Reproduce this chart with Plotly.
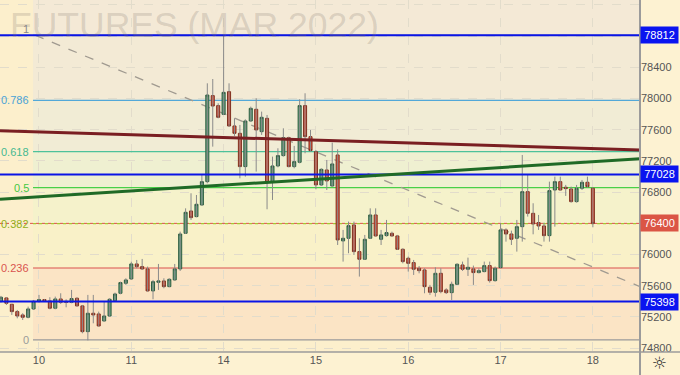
import plotly.graph_objects as go

# ---------------- data ----------------
day_labels = ["10", "11", "14", "15", "16", "17", "18"]
day_start_index = [7, 24, 41, 58, 75, 92, 109]

opens = [75401, 75444, 75363, 75269, 75226, 75196, 75303, 75401, 75423, 75406,
         75312, 75431, 75401, 75389, 75440, 75342, 75012, 75248, 75239, 75149,
         75213, 75410, 75504, 75632, 75688, 75880, 75846, 75816, 75534, 75645,
         75662, 75589, 75675, 75816, 76273, 76559, 76487, 76636, 76935, 78038,
         77910, 77798, 78089, 77649, 77555, 77128, 77713, 77863, 77576, 77747,
         76935, 77136, 77269, 77499, 77128, 77183, 77910, 77512, 77320, 76893,
         77085, 76880, 77277, 76175, 76209, 76380, 76038, 75940, 76209, 76508,
         76196, 76243, 76273, 76239, 76068, 75953, 75897, 75824, 75803, 75581,
         75517, 75760, 75547, 75512, 75619, 75867, 75812, 75816, 75769, 75782,
         75859, 75666, 75833, 76316, 76264, 76209, 76358, 76807, 76529, 76410,
         76367, 76243, 76828, 76935, 76863, 76841, 76679, 76850, 76927, 76850]
highs = [75470, 75453, 75363, 75290, 75248, 75333, 75418, 75483, 75431, 75453,
         75461, 75504, 75427, 75547, 75453, 75354, 75483, 75483, 75269, 75397,
         75440, 75512, 75653, 75696, 75910, 75931, 75944, 75846, 75675, 75880,
         75696, 75696, 75880, 76294, 76593, 76786, 76764, 77021, 78196, 78251,
         77940, 78812, 78196, 77747, 77662, 77734, 77897, 78004, 77833, 77790,
         77256, 77363, 77619, 77512, 77393, 77991, 78068, 77598, 77341, 77106,
         77213, 77435, 77350, 76316, 76423, 76423, 76209, 76252, 76593, 76593,
         76316, 76444, 76294, 76252, 76080, 75974, 75931, 75854, 75824, 75611,
         75837, 75824, 75568, 75653, 75888, 75910, 75961, 75859, 75824, 75910,
         75910, 75846, 76401, 76337, 76307, 76444, 77277, 77021, 76658, 76508,
         76410, 76935, 76999, 76999, 76893, 76871, 76893, 76957, 76999, 76863]
lows = [75384, 75354, 75226, 75183, 75162, 75183, 75290, 75384, 75397, 75299,
        75299, 75367, 75324, 75376, 75333, 74991, 74900, 75119, 75077, 75141,
        75205, 75397, 75491, 75611, 75675, 75824, 75803, 75525, 75427, 75547,
        75568, 75581, 75666, 75790, 76264, 76444, 76478, 76628, 76914, 77384,
        77747, 77790, 77640, 77521, 76978, 76999, 77704, 77064, 77534, 76581,
        76700, 77119, 77256, 77119, 77106, 77170, 77299, 77320, 76837, 76880,
        76828, 76871, 76123, 75910, 76017, 75995, 75718, 75931, 76200, 76230,
        76123, 76230, 76230, 76059, 75888, 75782, 75739, 75760, 75504, 75483,
        75461, 75504, 75495, 75418, 75611, 75790, 75726, 75611, 75760, 75773,
        75641, 75653, 75824, 76166, 76123, 76038, 76166, 76487, 76260, 76316,
        76166, 76166, 76358, 76820, 76752, 76666, 76666, 76828, 76858, 76350]
closes = [75453, 75376, 75269, 75213, 75196, 75303, 75401, 75423, 75406, 75312,
          75431, 75389, 75389, 75436, 75342, 75012, 75248, 75226, 75085, 75213,
          75427, 75495, 75641, 75675, 75880, 75846, 75816, 75534, 75653, 75662,
          75589, 75683, 75816, 76264, 76542, 76474, 76645, 76935, 78046, 77905,
          77760, 78080, 77649, 77555, 77128, 77713, 77875, 77598, 77760, 76923,
          77136, 77269, 77499, 77128, 77192, 77910, 77512, 77333, 76893, 77093,
          76944, 77162, 76188, 76209, 76371, 76038, 75940, 76196, 76508, 76239,
          76252, 76282, 76239, 76068, 75910, 75888, 75812, 75794, 75589, 75517,
          75760, 75525, 75512, 75619, 75876, 75812, 75837, 75769, 75794, 75859,
          75666, 75824, 76316, 76264, 76196, 76358, 76807, 76529, 76393, 76367,
          76243, 76820, 76935, 76828, 76846, 76679, 76850, 76927, 76871, 76400]

fib_high = 78812
fib_low = 74906
fib_ratios = [1, 0.786, 0.618, 0.5, 0.382, 0.236, 0]
fib_names = ["1", "0.786", "0.618", "0.5", "0.382", "0.236", "0"]
fib_colors = ["#8f8f8f", "#52a8d8", "#4dc29a", "#48d048", "#a5c830", "#d9534f", "#9a9a9a"]
fib_label_colors = ["#8a8a8a", "#4aa3d6", "#45b990", "#44c844", "#92b020", "#d9534f", "#9a9a9a"]
fib_fills = ["#f3ead5", "#f1ecd5", "#eff0d1", "#f5f2cb", "#f9f1c8", "#fbe4c5"]
above_fill = "#f4e9d6"

level_lines = [78812, 77028, 75398]
last_price = 76400

red_trend = [77589, 77341]
green_trend = [76709, 77230]
dash_trend = [78812, 75589]

yticks = [74800, 75200, 75600, 76000, 76400, 76800, 77200, 77600, 78000, 78400, 78800, 79200]
ytick_text = ["74800", "75200", "75600", "76000", "", "76800", "77200", "77600",
              "78000", "78400", "", "79200"]

# ---------------- figure ----------------
n = len(opens)
idx = list(range(n))
x_min, x_max = -0.18, 117.68
y_min, y_max = 74751, 79264
fib_x0 = 5.9

fig = go.Figure()

# wicks
wx, wy = [], []
for i in idx:
    wx += [i, i, None]
    wy += [lows[i], highs[i], None]
fig.add_trace(go.Scatter(x=wx, y=wy, mode="lines",
                         line=dict(color="#8a8a8a", width=1), hoverinfo="skip",
                         showlegend=False))

body_hi = [max(o, c) for o, c in zip(opens, closes)]
body_lo = [min(o, c) for o, c in zip(opens, closes)]
fig.add_trace(go.Candlestick(
    x=idx, open=opens, high=body_hi, low=body_lo, close=closes,
    increasing=dict(fillcolor="#5c9c78", line=dict(color="#2f5e42", width=1)),
    decreasing=dict(fillcolor="#e1503a", line=dict(color="#80301f", width=1)),
    whiskerwidth=0, showlegend=False, hoverinfo="skip"))

shapes = []
levels = [fib_low + r * (fib_high - fib_low) for r in fib_ratios]
shapes.append(dict(type="rect", xref="x", yref="y", x0=fib_x0, x1=x_max,
                   y0=levels[0], y1=y_max, fillcolor=above_fill, line_width=0, layer="below"))
for k in range(len(levels) - 1):
    shapes.append(dict(type="rect", xref="x", yref="y", x0=fib_x0, x1=x_max,
                       y0=levels[k + 1], y1=levels[k], fillcolor=fib_fills[k],
                       line_width=0, layer="below"))
shapes.append(dict(type="line", xref="x", yref="y", x0=x_min, x1=x_max,
                   y0=last_price, y1=last_price,
                   line=dict(color="#e0524a", width=1, dash="dot"), layer="between"))
for k, lv in enumerate(levels):
    shapes.append(dict(type="line", xref="x", yref="y", x0=fib_x0, x1=x_max,
                       y0=lv, y1=lv,
                       line=dict(color=fib_colors[k], width=1.2,
                                 dash="dot" if fib_names[k] == "0.382" else "solid"),
                       layer="between"))
shapes.append(dict(type="line", xref="x", yref="y", x0=6.3, x1=x_max,
                   y0=dash_trend[0], y1=dash_trend[1],
                   line=dict(color="#a09a90", width=1.3, dash="dash"), layer="between"))
for lv in level_lines:
    shapes.append(dict(type="line", xref="x", yref="y", x0=x_min, x1=x_max,
                       y0=lv, y1=lv, line=dict(color="#0a14e6", width=2), layer="above"))
shapes.append(dict(type="line", xref="x", yref="y", x0=x_min, x1=x_max,
                   y0=red_trend[0], y1=red_trend[1],
                   line=dict(color="#7a1f22", width=3), layer="above"))
shapes.append(dict(type="line", xref="x", yref="y", x0=x_min, x1=x_max,
                   y0=green_trend[0], y1=green_trend[1],
                   line=dict(color="#1f6a26", width=3), layer="above"))
shapes.append(dict(type="line", xref="paper", yref="paper", x0=0, x1=1.0625,
                   y0=0, y1=0, line=dict(color="#9b9b9b", width=1.5)))
shapes.append(dict(type="line", xref="paper", yref="paper", x0=1, x1=1,
                   y0=-0.07, y1=1, line=dict(color="#9b9b9b", width=2)))

annotations = []
annotations.append(dict(text="FUTURES (MAR 2022)", xref="paper", yref="paper",
                        x=0.012, y=1.0, xanchor="left", yanchor="top", yshift=-3,
                        showarrow=False,
                        font=dict(family="Liberation Sans", size=35.5,
                                  color="rgba(130,120,110,0.24)")))
for k, lv in enumerate(levels):
    annotations.append(dict(text=fib_names[k], xref="paper", yref="y", x=31 / 640,
                            y=lv, xanchor="right",
                            yanchor="bottom" if fib_names[k] == "1" else "middle",
                            yshift=-2 if fib_names[k] == "1" else 0,
                            showarrow=False,
                            font=dict(family="Liberation Sans", size=11,
                                      color=fib_label_colors[k])))
for lv in level_lines:
    annotations.append(dict(text=str(lv), xref="paper", yref="y", x=1.0, y=lv,
                            xanchor="left", yanchor="middle", showarrow=False,
                            bgcolor="#0a14f0", borderpad=2, width=33,
                            font=dict(family="Liberation Sans", size=11, color="white")))
annotations.append(dict(text=str(last_price), xref="paper", yref="y", x=1.0, y=last_price,
                        xanchor="left", yanchor="middle", showarrow=False,
                        bgcolor="#db5545", borderpad=2, width=33,
                        font=dict(family="Liberation Sans", size=11, color="white")))
annotations.append(dict(text="☼", xref="paper", yref="paper", x=1.0305, y=-0.032,
                        xanchor="center", yanchor="middle", showarrow=False,
                        font=dict(family="DejaVu Sans", size=17, color="#333333")))

fig.update_layout(
    width=680, height=375,
    margin=dict(l=0, r=40, t=0, b=23),
    paper_bgcolor="#fdf2d2",
    plot_bgcolor="#fcefcc",
    boxgap=0.2,
    shapes=shapes, annotations=annotations,
    showlegend=False, hovermode=False,
    xaxis=dict(range=[x_min, x_max], tickvals=day_start_index, ticktext=day_labels,
               showgrid=True, gridcolor="#e2dccb", griddash="dash", gridwidth=1,
               zeroline=False, showline=False, ticks="",
               tickfont=dict(family="Liberation Sans", size=11, color="#555555"),
               rangeslider=dict(visible=False), fixedrange=True),
    yaxis=dict(range=[y_min, y_max], side="right", tickvals=yticks, ticktext=ytick_text,
               showgrid=True, gridcolor="#e2dccb", griddash="dash", gridwidth=1,
               zeroline=False, showline=False, ticks="",
               tickfont=dict(family="Liberation Sans", size=11, color="#555555"),
               fixedrange=True),
)

fig.write_html("out.html", config=dict(displayModeBar=False, staticPlot=True),
               post_script="document.body.style.margin='0';document.body.style.padding='0';")
